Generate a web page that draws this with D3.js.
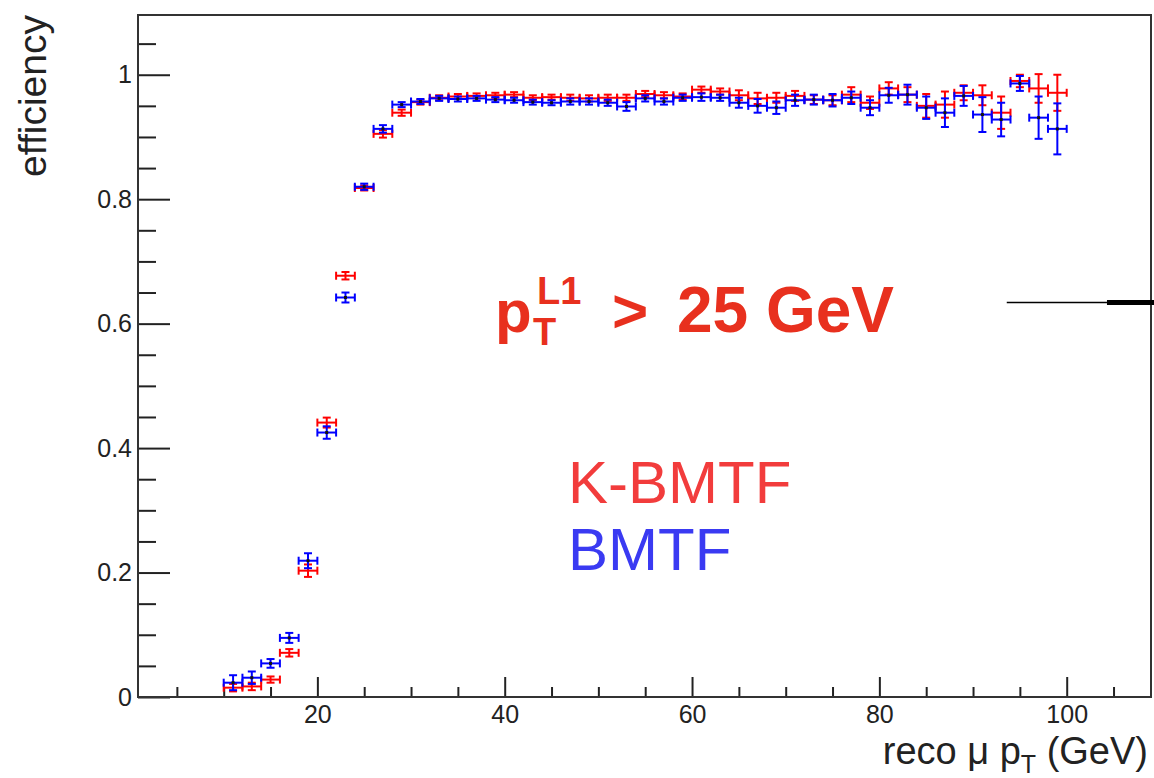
<!DOCTYPE html>
<html>
<head>
<meta charset="utf-8">
<script src="https://cdn.jsdelivr.net/npm/d3@7"></script>
<style>
  body { margin: 0; background: #fff; }
  svg { display: block; font-family: "Liberation Sans", Arial, Helvetica, sans-serif; }
</style>
</head>
<body>
<div id="effPlot"></div>
<script>
// bin centres (reco muon pT, GeV), each bin is 2 GeV wide
const ptBins = [11,13,15,17,19,21,23,25,27,29,31,33,35,37,39,41,43,45,47,49,51,53,55,57,59,
                61,63,65,67,69,71,73,75,77,79,81,83,85,87,89,91,93,95,97,99];
const binHalfWidth = 1;

// K-BMTF efficiency (red)
const effKBMTF = [0.015,0.017,0.028,0.071,0.203,0.441,0.677,0.818,0.905,0.939,0.956,0.963,0.965,0.966,0.967,
                  0.968,0.963,0.964,0.963,0.962,0.963,0.963,0.969,0.967,0.965,0.976,0.973,0.967,0.962,0.963,
                  0.966,0.960,0.959,0.968,0.955,0.978,0.968,0.950,0.952,0.971,0.967,0.939,0.990,0.978,0.971];
const errKBMTF = [0.006,0.006,0.005,0.006,0.010,0.008,0.006,0.004,0.006,0.005,0.004,0.004,0.004,0.004,0.004,
                  0.004,0.004,0.004,0.005,0.005,0.005,0.005,0.005,0.005,0.005,0.005,0.005,0.008,0.009,0.008,
                  0.008,0.007,0.008,0.012,0.010,0.010,0.012,0.019,0.021,0.012,0.016,0.026,0.010,0.023,0.029];

// BMTF efficiency (blue)
const effBMTF  = [0.023,0.031,0.054,0.095,0.219,0.425,0.642,0.820,0.913,0.952,0.957,0.962,0.961,0.962,0.960,
                  0.959,0.956,0.955,0.957,0.957,0.955,0.949,0.962,0.957,0.963,0.964,0.963,0.955,0.950,0.947,
                  0.959,0.960,0.959,0.963,0.947,0.967,0.968,0.947,0.939,0.966,0.936,0.928,0.986,0.931,0.913];
const errBMTF  = [0.012,0.010,0.007,0.008,0.012,0.010,0.008,0.005,0.006,0.004,0.004,0.004,0.004,0.004,0.004,
                  0.004,0.004,0.004,0.005,0.005,0.005,0.007,0.005,0.005,0.005,0.006,0.005,0.008,0.011,0.010,
                  0.009,0.008,0.010,0.010,0.012,0.012,0.016,0.018,0.023,0.016,0.028,0.027,0.012,0.034,0.041];

const xMajorTicks = [20, 40, 60, 80, 100];
const yMajorTicks = [0, 0.2, 0.4, 0.6, 0.8, 1];

// 1) canvas
const W = 1154, H = 778;
const frame = { left: 138, right: 1151, top: 15, bottom: 697 };

const svg = d3.select("#effPlot")
  .append("svg")
    .attr("width", W)
    .attr("height", H);

// 2) scales
const x = d3.scaleLinear().domain([0.85, 109.0]).range([frame.left, frame.right]);
const y = d3.scaleLinear().domain([0, 1.096]).range([frame.bottom, frame.top]);

// 3) axes, ROOT style: ticks point inwards, minor ticks without labels
const xMinor = d3.range(5, 110, 5).filter(v => !xMajorTicks.includes(v));
const yMinor = d3.range(0.05, 1.09, 0.05).filter(v => !yMajorTicks.some(t => Math.abs(t - v) < 1e-6));

const xAxisG = svg.append("g").attr("transform", `translate(0,${frame.bottom})`);
xAxisG.append("g")
  .call(d3.axisBottom(x).tickValues(xMinor).tickSize(-10).tickFormat(""));
xAxisG.append("g")
  .call(d3.axisBottom(x).tickValues(xMajorTicks).tickSize(-20).tickPadding(8).tickFormat(d3.format("d")));

const yAxisG = svg.append("g").attr("transform", `translate(${frame.left},0)`);
yAxisG.append("g")
  .call(d3.axisLeft(y).tickValues(yMinor).tickSize(-18).tickFormat(""));
yAxisG.append("g")
  .call(d3.axisLeft(y).tickValues(yMajorTicks).tickSize(-32).tickPadding(6).tickFormat(d => d === 0 || d === 1 ? d3.format("d")(d) : d3.format(".1f")(d)));

svg.selectAll(".domain").remove();
svg.selectAll(".tick line").attr("stroke", "#222").attr("stroke-width", 2);
svg.selectAll(".tick text")
  .attr("font-family", "Liberation Sans, Arial, sans-serif")
  .attr("font-size", 25)
  .attr("fill", "#222");

// frame
svg.append("rect")
  .attr("x", frame.left).attr("y", frame.top)
  .attr("width", frame.right - frame.left).attr("height", frame.bottom - frame.top)
  .attr("fill", "none").attr("stroke", "#333").attr("stroke-width", 2);

// 4) axis titles
svg.append("text")
  .attr("transform", `translate(46,${frame.top}) rotate(-90)`)
  .attr("text-anchor", "end")
  .attr("font-size", 39)
  .attr("fill", "#222")
  .text("efficiency");

const xTitle = svg.append("text")
  .attr("x", 1148).attr("y", 764)
  .attr("text-anchor", "end")
  .attr("font-size", 38)
  .attr("fill", "#222");
xTitle.append("tspan").text("reco \u03bc p");
xTitle.append("tspan").attr("font-size", 25).attr("dy", 9).text("T");
xTitle.append("tspan").attr("dy", -9).text(" (GeV)");

// 5) error-bar points
function drawSeries(eff, err, colour, centre) {
  const pts = ptBins.map((c, i) => ({ c, v: eff[i], e: err[i] }));
  const g = svg.append("g")
    .attr("stroke", colour)
    .attr("stroke-width", 2)
    .attr("fill", "none");
  const cap = 4;

  const p = g.selectAll("g.pt").data(pts).enter().append("g").attr("class", "pt");
  // horizontal bar + end caps
  p.append("line")
    .attr("x1", d => x(d.c - binHalfWidth)).attr("x2", d => x(d.c + binHalfWidth))
    .attr("y1", d => y(d.v)).attr("y2", d => y(d.v));
  p.append("line")
    .attr("x1", d => x(d.c - binHalfWidth)).attr("x2", d => x(d.c - binHalfWidth))
    .attr("y1", d => y(d.v) - cap).attr("y2", d => y(d.v) + cap);
  p.append("line")
    .attr("x1", d => x(d.c + binHalfWidth)).attr("x2", d => x(d.c + binHalfWidth))
    .attr("y1", d => y(d.v) - cap).attr("y2", d => y(d.v) + cap);
  // vertical bar + end caps
  p.append("line")
    .attr("x1", d => x(d.c)).attr("x2", d => x(d.c))
    .attr("y1", d => y(d.v - d.e)).attr("y2", d => y(d.v + d.e));
  p.append("line")
    .attr("x1", d => x(d.c) - cap).attr("x2", d => x(d.c) + cap)
    .attr("y1", d => y(d.v + d.e)).attr("y2", d => y(d.v + d.e));
  p.append("line")
    .attr("x1", d => x(d.c) - cap).attr("x2", d => x(d.c) + cap)
    .attr("y1", d => y(d.v - d.e)).attr("y2", d => y(d.v - d.e));
  // small centre marker
  if (centre) {
    p.append("rect")
      .attr("x", d => x(d.c) - 1.5).attr("y", d => y(d.v) - 1.5)
      .attr("width", 3).attr("height", 3)
      .attr("stroke", "none").attr("fill", centre);
  }
}

drawSeries(effKBMTF, errKBMTF, "#ff0000", null);
drawSeries(effBMTF, errBMTF, "#0000ff", "#111");

// 6) labels on the pad
const titleRed = "#e8301e";
svg.append("text")
  .attr("x", 495).attr("y", 332)
  .attr("font-size", 60).attr("font-weight", "bold").attr("fill", titleRed)
  .text("p");
svg.append("text")
  .attr("x", 533).attr("y", 345)
  .attr("font-size", 38).attr("font-weight", "bold").attr("fill", titleRed)
  .text("T");
svg.append("text")
  .attr("x", 537).attr("y", 304)
  .attr("font-size", 38).attr("font-weight", "bold").attr("fill", titleRed)
  .text("L1");
svg.append("text")
  .attr("x", 612).attr("y", 332)
  .attr("font-size", 62).attr("font-weight", "bold").attr("fill", titleRed)
  .text(">");
svg.append("text")
  .attr("x", 677).attr("y", 332)
  .attr("font-size", 64).attr("font-weight", "bold").attr("fill", titleRed)
  .text("25 GeV");

svg.append("text")
  .attr("x", 568).attr("y", 503)
  .attr("font-size", 60).attr("fill", "#f23c3c")
  .text("K-BMTF");
svg.append("text")
  .attr("x", 568).attr("y", 570)
  .attr("font-size", 60).attr("fill", "#3a3af2")
  .text("BMTF");

// stray line segment at the right of the pad
svg.append("line")
  .attr("x1", x(93.6)).attr("x2", x(104.3))
  .attr("y1", y(0.634)).attr("y2", y(0.634))
  .attr("stroke", "#000").attr("stroke-width", 1.5);
svg.append("line")
  .attr("x1", x(104.3)).attr("x2", W)
  .attr("y1", y(0.634)).attr("y2", y(0.634))
  .attr("stroke", "#000").attr("stroke-width", 5);
</script>
</body>
</html>
